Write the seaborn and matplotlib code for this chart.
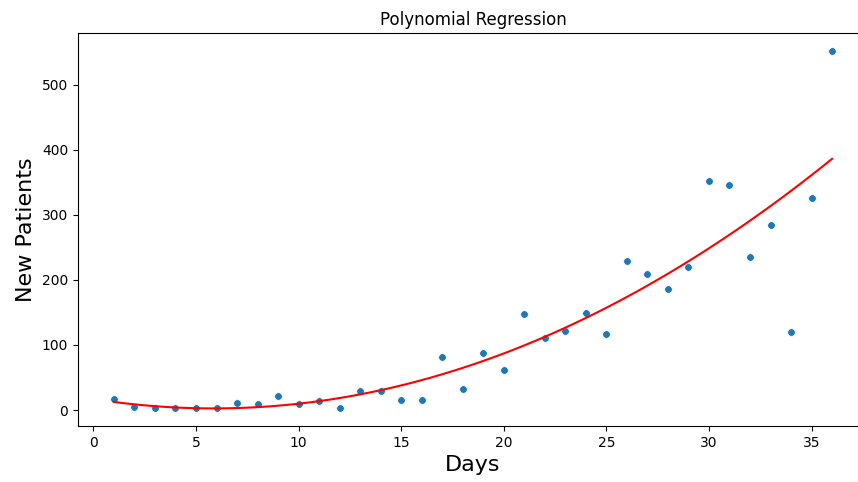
import matplotlib
matplotlib.use("Agg")
import matplotlib.pyplot as plt
import seaborn as sns
import pandas as pd

days = list(range(1, 37))
new_patients = [17, 5, 3, 3, 3, 3, 11, 9, 22, 9, 14, 3, 29, 29, 15, 15, 82, 32,
                88, 62, 148, 111, 122, 149, 117, 229, 209, 186, 220, 352, 346,
                235, 285, 120, 326, 552]

df = pd.DataFrame({"Days": days, "New Patients": new_patients})

fig = plt.figure(figsize=(8.58, 4.82), dpi=100)
ax = fig.add_axes([78 / 858, 56 / 482, 790 / 858, 393 / 482])

sns.scatterplot(data=df, x="Days", y="New Patients", ax=ax, color="#1f77b4",
                s=30, edgecolor="white", linewidth=0.5)
sns.regplot(data=df, x="Days", y="New Patients", ax=ax, order=2, ci=None,
            scatter=False, color="red", line_kws={"linewidth": 1.5})

ax.set_xlim(-0.75, 37.75)
ax.set_ylim(-24.5, 579.5)
ax.set_xticks([0, 5, 10, 15, 20, 25, 30, 35])
ax.set_yticks([0, 100, 200, 300, 400, 500])
ax.set_title("Polynomial Regression", fontsize=12)
ax.set_xlabel("Days", fontsize=16)
ax.set_ylabel("New Patients", fontsize=16)
ax.tick_params(labelsize=10)

fig.savefig("out.png", dpi=100)
